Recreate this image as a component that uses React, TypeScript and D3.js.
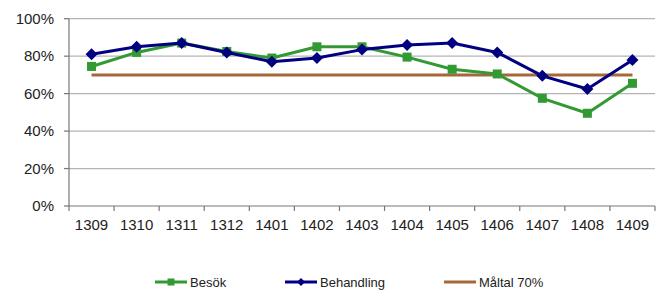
import React from "react";
import * as d3 from "d3";

const months = ["1309", "1310", "1311", "1312", "1401", "1402", "1403", "1404", "1405", "1406", "1407", "1408", "1409"];
const besok = [74.5, 82, 87, 82.5, 79, 85, 85, 79.5, 73, 70.5, 57.5, 49.5, 65.5];
const behandling = [81, 85, 87, 82, 77, 79, 83.5, 86, 87, 82, 69.5, 62.5, 78];
const maltal = [70, 70, 70, 70, 70, 70, 70, 70, 70, 70, 70, 70, 70];
const yTicks = [0, 20, 40, 60, 80, 100];

const W = 660;
const H = 292;
const left = 69;
const right = 655;
const top = 18.7;
const bottom = 206;

const GREEN = "#339933";
const NAVY = "#000080";
const BROWN = "#a5683a";
const FONT = "Arial, 'Liberation Sans', sans-serif";

const App = () => {
  const x = d3.scaleBand<string>().domain(months).range([left, right]);
  const y = d3.scaleLinear().domain([0, 100]).range([bottom, top]);
  const cx = (m: string) => (x(m) as number) + x.bandwidth() / 2;

  const line = d3
    .line<number>()
    .x((_, i) => cx(months[i]))
    .y((d) => y(d));

  const square = (px: number, py: number, s: number, c: string, k: string) => (
    <rect key={k} x={px - s / 2} y={py - s / 2} width={s} height={s} fill={c} />
  );
  const diamond = (px: number, py: number, s: number, c: string, k: string) => (
    <path key={k} d={`M${px},${py - s / 2}L${px + s / 2},${py}L${px},${py + s / 2}L${px - s / 2},${py}Z`} fill={c} />
  );

  const legend = [
    { name: "Besök", color: GREEN, marker: "square", x0: 155 },
    { name: "Behandling", color: NAVY, marker: "diamond", x0: 285 },
    { name: "Måltal 70%", color: BROWN, marker: "none", x0: 444 },
  ];
  const ly = 282;

  return (
    <svg width={W} height={H} style={{ position: "absolute", left: 0, top: 0, background: "#fff" }}>
      {/* gridlines */}
      {yTicks.filter((t) => t > 0).map((t) => (
        <line key={t} x1={left} x2={right} y1={y(t)} y2={y(t)} stroke="#b4b4b4" strokeWidth={1.3} />
      ))}
      {/* axes */}
      <line x1={left} x2={left} y1={top} y2={bottom} stroke="#777" strokeWidth={1.2} />
      <line x1={left} x2={right} y1={bottom} y2={bottom} stroke="#777" strokeWidth={1.2} />
      {yTicks.map((t) => (
        <g key={t}>
          <line x1={left - 5} x2={left} y1={y(t)} y2={y(t)} stroke="#777" strokeWidth={1.2} />
          <text x={left - 15} y={y(t)} dy="0.35em" textAnchor="end" fontFamily={FONT} fontSize={15} fill="#222">
            {t}%
          </text>
        </g>
      ))}
      {months.map((m, i) => (
        <line key={m} x1={(x(m) as number)} x2={(x(m) as number)} y1={bottom} y2={bottom + 5} stroke="#777" strokeWidth={1.2} />
      ))}
      <line x1={right} x2={right} y1={bottom} y2={bottom + 5} stroke="#777" strokeWidth={1.2} />
      {months.map((m) => (
        <text key={m} x={cx(m)} y={225} dy="0.35em" textAnchor="middle" fontFamily={FONT} fontSize={15} fill="#222">
          {m}
        </text>
      ))}

      {/* target */}
      <path d={line(maltal) || ""} fill="none" stroke={BROWN} strokeWidth={3} />
      {/* Besök */}
      <path d={line(besok) || ""} fill="none" stroke={GREEN} strokeWidth={3} strokeLinejoin="round" />
      {besok.map((v, i) => square(cx(months[i]), y(v), 9, GREEN, "b" + i))}
      {/* Behandling */}
      <path d={line(behandling) || ""} fill="none" stroke={NAVY} strokeWidth={3} strokeLinejoin="round" />
      {behandling.map((v, i) => diamond(cx(months[i]), y(v), 12, NAVY, "d" + i))}

      {/* legend */}
      {legend.map((l) => (
        <g key={l.name}>
          <line x1={l.x0} x2={l.x0 + 32} y1={ly} y2={ly} stroke={l.color} strokeWidth={3} />
          {l.marker === "square" && square(l.x0 + 16, ly, 7, l.color, "ls")}
          {l.marker === "diamond" && diamond(l.x0 + 16, ly, 8, l.color, "ld")}
          <text x={l.x0 + 35} y={ly} dy="0.35em" fontFamily={FONT} fontSize={13} fill="#222">
            {l.name}
          </text>
        </g>
      ))}
    </svg>
  );
};

export default App;
